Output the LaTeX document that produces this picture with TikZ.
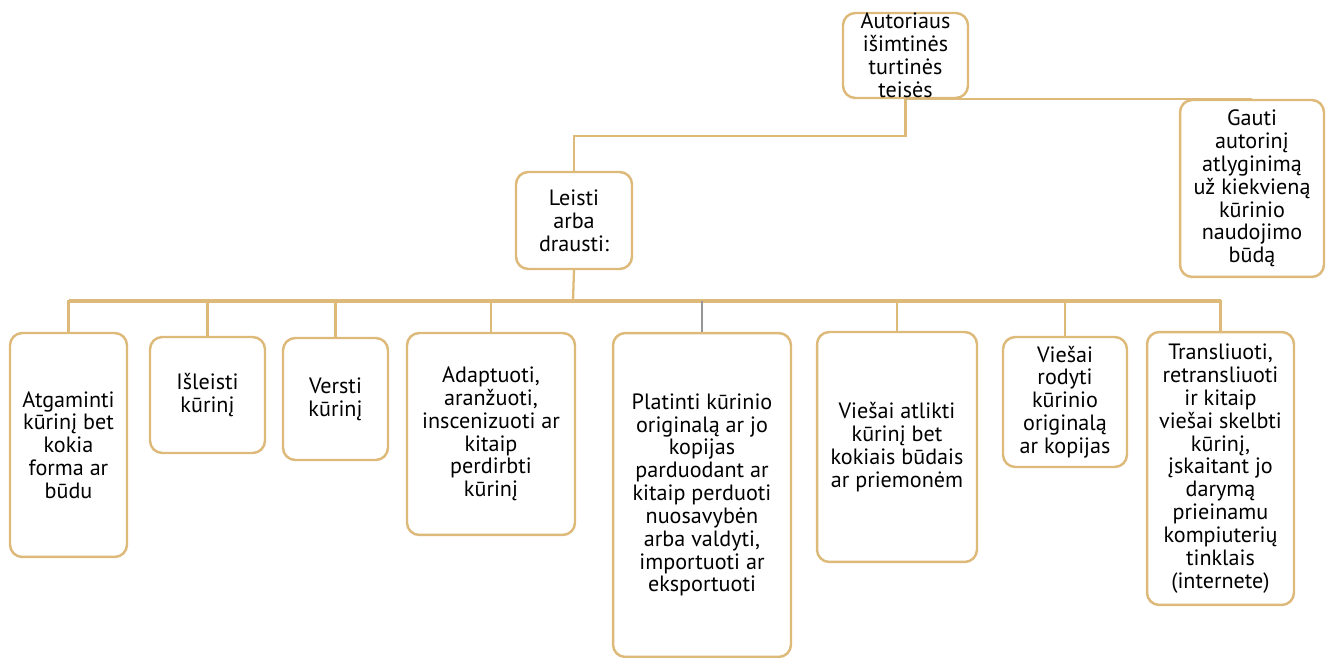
\documentclass[tikz,border=0pt]{standalone}
\usepackage{fontspec}
\setmainfont{PT Sans}
\usetikzlibrary{positioning}
\definecolor{gold}{RGB}{221,186,122}
\definecolor{linkgray}{RGB}{150,150,150}

\tikzset{
  rightbox/.style={draw=gold, line width=1.4pt, rounded corners=7pt, fill=white,
    align=center, inner sep=0pt, font=\fontsize{12.6}{13}\selectfont},
  link/.style={draw=gold, line width=1.3pt},
  buslink/.style={draw=gold, line width=2.2pt},
}

\begin{document}
\begin{tikzpicture}[x=0.02cm,y=-0.02cm]
    \useasboundingbox (0,0) rectangle (1330,658);
    % top level
    \node[rightbox, minimum width=2.5cm, minimum height=1.7cm] (auto) at (905.5,55.5)
      {Autoriaus\\išimtinės\\turtinės\\teisės};
    \node[rightbox, minimum width=2.88cm, minimum height=3.54cm] (gauti) at (1252,188.5)
      {Gauti\\autorinį\\atlyginimą\\už kiekvieną\\kūrinio\\naudojimo\\būdą};
    \node[rightbox, minimum width=2.32cm, minimum height=1.94cm] (leisti) at (574,220.5)
      {Leisti\\arba\\drausti:};
    % second level
    \node[rightbox, minimum width=2.34cm, minimum height=4.48cm] (atg) at (68.5,445)
      {Atgaminti\\kūrinį bet\\kokia\\forma ar\\būdu};
    \node[rightbox, minimum width=2.3cm, minimum height=2.32cm] (isl) at (207.5,395)
      {Išleisti\\kūrinį};
    \node[rightbox, minimum width=2.1cm, minimum height=2.44cm] (ver) at (335.5,399)
      {Versti\\kūrinį};
    \node[rightbox, minimum width=3.36cm, minimum height=4.04cm] (adp) at (491,434)
      {Adaptuoti,\\aranžuoti,\\inscenizuoti ar\\kitaip\\perdirbti\\kūrinį};
    \node[rightbox, minimum width=3.56cm, minimum height=6.48cm] (pla) at (702,495)
      {Platinti kūrinio\\originalą ar jo\\kopijas\\parduodant ar\\kitaip perduoti\\nuosavybėn\\arba valdyti,\\importuoti ar\\eksportuoti};
    \node[rightbox, minimum width=3.2cm, minimum height=4.6cm] (via) at (897,447)
      {Viešai atlikti\\kūrinį bet\\kokiais būdais\\ar priemonėm};
    \node[rightbox, minimum width=2.48cm, minimum height=2.6cm] (vir) at (1065,402)
      {Viešai\\rodyti\\kūrinio\\originalą\\ar kopijas};
    \node[rightbox, minimum width=2.94cm, minimum height=5.46cm] (tra) at (1220.5,468.5)
      {Transliuoti,\\retransliuoti\\ir kitaip\\viešai skelbti\\kūrinį,\\įskaitant jo\\darymą\\prieinamu\\kompiuterių\\tinklais\\(internete)};

    % connectors
    \draw[link] (auto.south) -- ++(0,37) -| (leisti.north);
    \draw[link] (auto.south) -- (auto.south -| gauti.north) -- (gauti.north);
    \coordinate (split) at (573,301);
    \draw[link] (leisti.south) -- (split);
    \draw[buslink] (split -| atg.north) -- (split -| tra.north);
    \foreach \n in {atg,isl,ver,adp,via,vir,tra}
    \draw[link] (split) -| (\n.north);
    \draw[link, draw=linkgray] (split -| pla.north) -- (pla.north);
  \end{tikzpicture}
\end{document}
